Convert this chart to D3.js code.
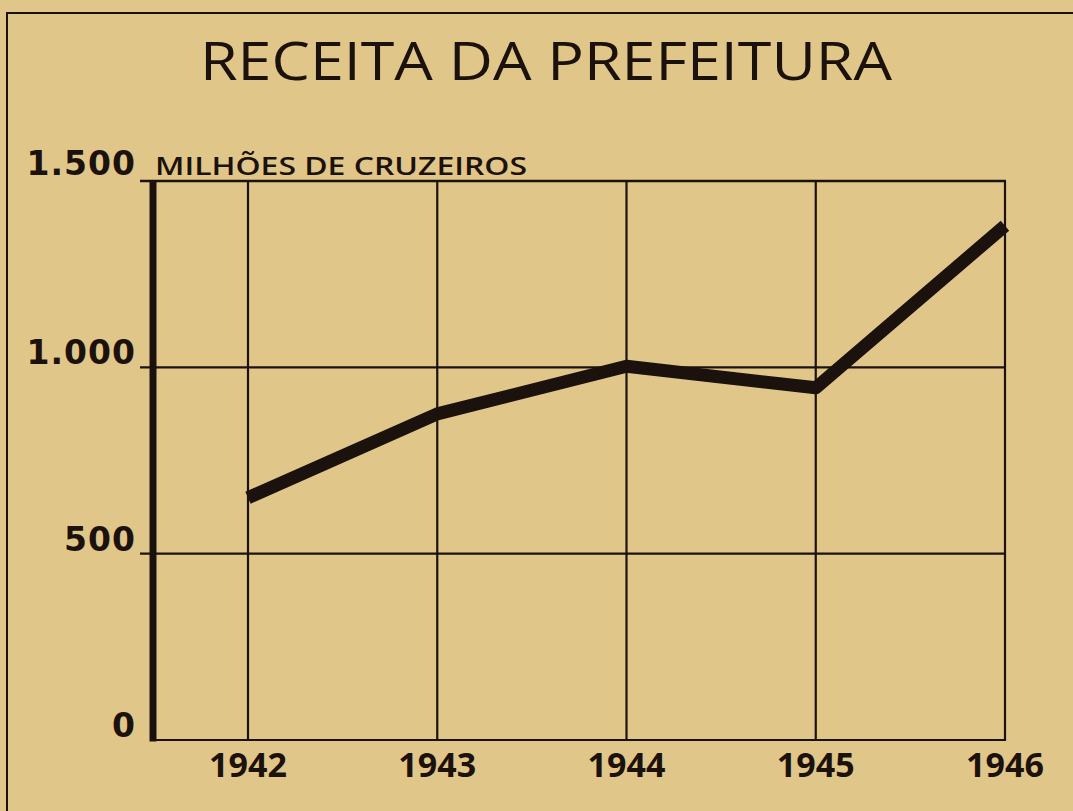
<!DOCTYPE html>
<html><head><meta charset="utf-8">
<script src="https://cdn.jsdelivr.net/npm/d3@7"></script>
<style>body{margin:0;background:#e1c68a;} svg{display:block}</style>
</head><body><svg id="c" width="1073" height="811"></svg>
<script>
const years = ["1942", "1943", "1944", "1945", "1946"];
const revenue = [650, 875, 1003, 945, 1380];
const yTicks = [0, 500, 1000, 1500];
const yTickLabels = ["0", "500", "1.000", "1.500"];
const title = "RECEITA DA PREFEITURA";
const unitLabel = "MILHÕES DE CRUZEIROS";

const ink = "#1c120d";
const svg = d3.select("#c");
svg.append("rect").attr("width", 1073).attr("height", 811).attr("fill", "#e1c68a");

// frame (left and top edges visible)
svg.append("path").attr("d", "M7,811 L7,13 L1073,13").attr("fill", "none")
  .attr("stroke", ink).attr("stroke-width", 2);

const x = d3.scalePoint().domain(years).range([248, 1005]);
const y = d3.scaleLinear().domain([0, 1500]).range([740, 181]);

// horizontal grid
const g = svg.append("g");
g.selectAll("line.h").data(yTicks).join("line")
  .attr("x1", d => d === 0 ? 150 : 140).attr("x2", x("1946") + 1)
  .attr("y1", d => y(d)).attr("y2", d => y(d))
  .attr("stroke", ink).attr("stroke-width", d => d === 1500 ? 2.5 : 2.2);

// vertical grid
g.selectAll("line.v").data(years).join("line")
  .attr("x1", d => x(d)).attr("x2", d => x(d))
  .attr("y1", y(1500)).attr("y2", y(0) + 1)
  .attr("stroke", ink).attr("stroke-width", 2.2);

// thick y axis
svg.append("line").attr("x1", 153).attr("x2", 153).attr("y1", y(1500) - 1).attr("y2", y(0) + 1.5)
  .attr("stroke", ink).attr("stroke-width", 7);

// data line
const line = d3.line().x((d, i) => x(years[i])).y(d => y(d)).curve(d3.curveLinear);
svg.append("path").datum(revenue).attr("d", line)
  .attr("fill", "none").attr("stroke", ink).attr("stroke-width", 13)
  .attr("stroke-linejoin", "round").attr("stroke-linecap", "butt");

// y tick labels
svg.selectAll("text.yl").data(yTicks).join("text")
  .attr("x", 136).attr("y", d => y(d) - (d === 1500 ? 6 : 3))
  .attr("text-anchor", "end")
  .attr("font-family", "DejaVu Sans").attr("font-weight", "bold").attr("font-size", 33)
  .attr("letter-spacing", 1)
  .attr("fill", ink)
  .text((d, i) => yTickLabels[i]);

// unit label
svg.append("text").attr("x", 155).attr("y", 175)
  .attr("font-family", "Open Sans").attr("font-weight", 600).attr("font-size", 26)
  .attr("textLength", 372).attr("lengthAdjust", "spacingAndGlyphs")
  .attr("fill", ink).text(unitLabel);

// x labels
svg.selectAll("text.xl").data(years).join("text")
  .attr("x", d => x(d)).attr("y", 777)
  .attr("text-anchor", "middle")
  .attr("font-family", "Open Sans").attr("font-weight", "bold").attr("font-size", 34)
  .attr("fill", ink).text(d => d);

// title
svg.append("text").attr("x", 200).attr("y", 80)
  .attr("font-family", "Open Sans").attr("font-weight", "normal").attr("font-size", 53)
  .attr("textLength", 692).attr("lengthAdjust", "spacingAndGlyphs")
  .attr("fill", ink).text(title);
</script></body></html>
